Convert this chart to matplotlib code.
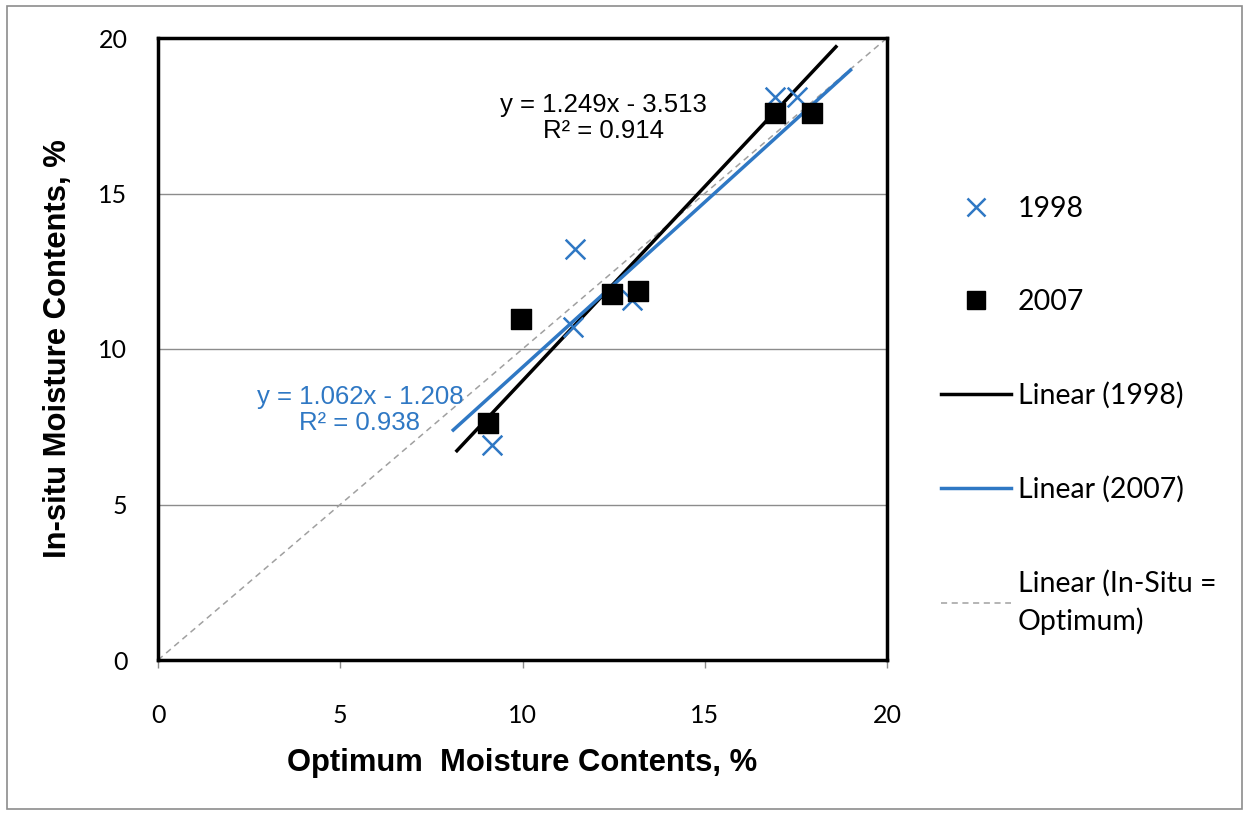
import numpy as np
import matplotlib.pyplot as plt
from matplotlib.lines import Line2D
from matplotlib.patches import Rectangle

# data
x_1998 = [9.16, 11.44, 11.39, 13.0, 16.93, 17.53]
y_1998 = [6.91, 13.2, 10.7, 11.57, 18.1, 18.1]
x_2007 = [9.05, 9.96, 12.46, 13.17, 16.93, 17.94]
y_2007 = [7.62, 10.96, 11.77, 11.87, 17.59, 17.59]

# trendline coefficients as printed on the chart
fit_1998 = (1.249, -3.513)
fit_2007 = (1.062, -1.208)
range_1998 = [8.2, 18.6]
range_2007 = [8.1, 19.0]

blue = '#2F78C4'
tick_font = 'Lato'

fig = plt.figure(figsize=(12.49, 8.14), dpi=100)
fig.add_artist(Rectangle((0.0056, 0.006), 0.9888, 0.987, transform=fig.transFigure,
                         fill=False, edgecolor='#8c8c8c', linewidth=1.2))
ax = fig.add_axes([158 / 1249, 1 - 660 / 814, (887 - 158) / 1249, (660 - 38) / 814])

ax.set_xlim(0, 20)
ax.set_ylim(0, 20)
ax.set_xticks([0, 5, 10, 15, 20])
ax.set_yticks([0, 5, 10, 15, 20])
ax.yaxis.grid(True, color='#8c8c8c', linewidth=1.0)
ax.set_axisbelow(True)
for s in ax.spines.values():
    s.set_linewidth(2.5)
    s.set_color('black')
ax.tick_params(axis='x', direction='out', length=6, width=1, color='#8c8c8c', pad=26,
               labelsize=18)
ax.tick_params(axis='y', direction='out', length=0, pad=22, labelsize=18)
for lab in ax.get_xticklabels() + ax.get_yticklabels():
    lab.set_family(tick_font)

# 1:1 line
ax.plot([0, 20], [0, 20], linestyle=(0, (4, 3)), color='#a0a0a0', linewidth=1.1, zorder=2)

xs = np.array(range_1998)
ax.plot(xs, fit_1998[0] * xs + fit_1998[1], color='black', linewidth=2.5, zorder=3)
xs = np.array(range_2007)
ax.plot(xs, fit_2007[0] * xs + fit_2007[1], color=blue, linewidth=2.5, zorder=3)

ax.scatter(x_1998, y_1998, marker='x', s=200, color=blue, linewidths=1.8, zorder=4)
ax.scatter(x_2007, y_2007, marker='s', s=190, color='black', zorder=5)

ax.text(12.21, 17.43, 'y = 1.249x - 3.513\nR\u00b2 = 0.914', ha='center', va='center',
        fontsize=18.5, family='Liberation Sans', color='black', linespacing=1.1)
ax.text(5.54, 8.04, 'y = 1.062x - 1.208\nR\u00b2 = 0.938', ha='center', va='center',
        fontsize=18.5, family='Liberation Sans', color=blue, linespacing=1.1)

ax.set_xlabel('Optimum  Moisture Contents, %', fontsize=22.3, fontweight='bold',
              family='Liberation Sans', labelpad=15)
ax.set_ylabel('In-situ Moisture Contents, %', fontsize=22.3, fontweight='bold',
              family='Liberation Sans', labelpad=18)

handles = [
    Line2D([], [], marker='x', linestyle='none', color=blue, markersize=13, markeredgewidth=1.8),
    Line2D([], [], marker='s', linestyle='none', color='black', markersize=13),
    Line2D([], [], color='black', linewidth=2.5),
    Line2D([], [], color=blue, linewidth=2.5),
    Line2D([], [], color='#a0a0a0', linewidth=1.1, linestyle=(0, (4, 3))),
]
labels = ['1998', '2007', 'Linear (1998)', 'Linear (2007)', 'Linear (In-Situ =\nOptimum)']
leg = fig.legend(handles, labels, loc='upper left', bbox_to_anchor=(927 / 1249, 1 - 182 / 814),
                 frameon=False, prop={'family': tick_font, 'size': 20.5},
                 labelspacing=2.35, handlelength=2.45, handletextpad=0.25, borderpad=0)
leg.get_texts()[-1].set_linespacing(1.5)

fig.savefig('out.png', dpi=100)
